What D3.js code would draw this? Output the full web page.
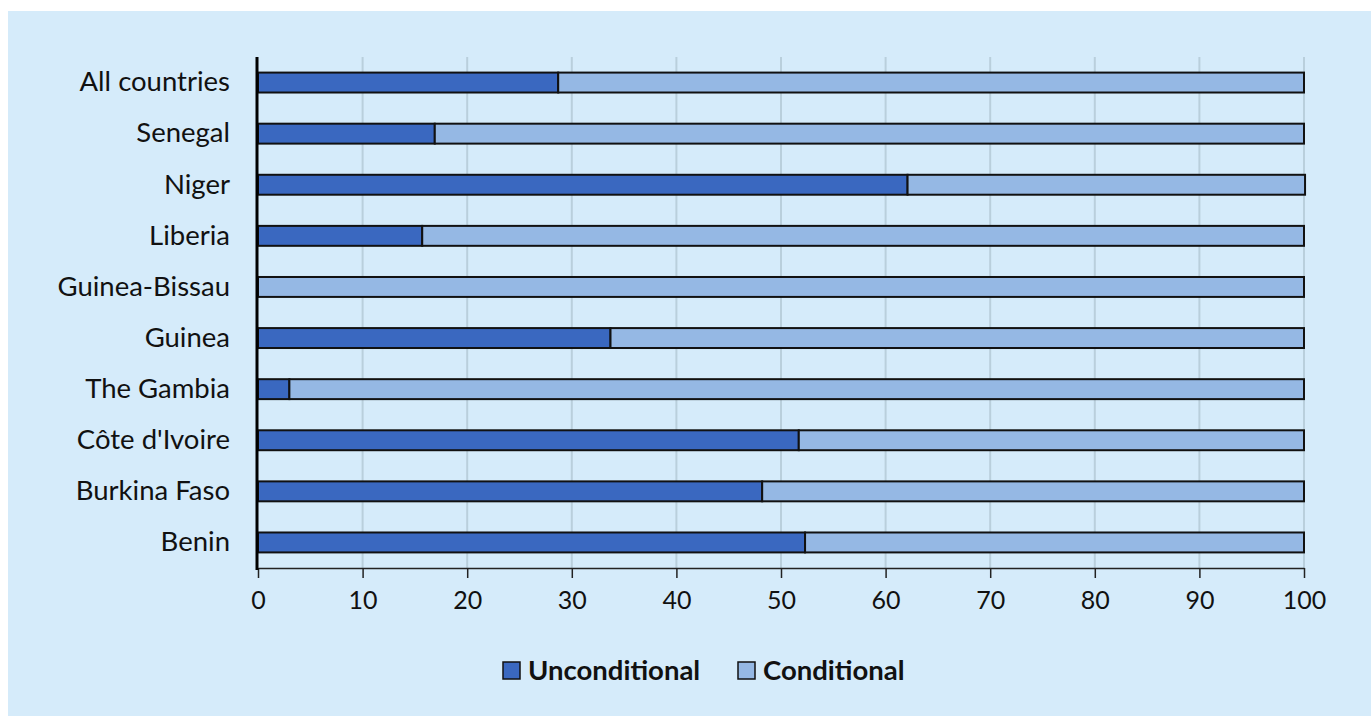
<!DOCTYPE html>
<html>
<head>
<meta charset="utf-8">
<script src="https://cdn.jsdelivr.net/npm/d3@7"></script>
<style>
  body { margin: 0; background: #fff; }
  svg { display: block; font-family: Lato, "Open Sans", sans-serif; }
</style>
</head>
<body>
<svg id="chart" width="1371" height="716"></svg>
<script>
const countries = ['All countries', 'Senegal', 'Niger', 'Liberia', 'Guinea-Bissau', 'Guinea',
  'The Gambia', "Côte d'Ivoire", 'Burkina Faso', 'Benin'];
const unconditional = [28.7, 16.9, 62.1, 15.7, 0, 33.7, 3.0, 51.7, 48.2, 52.3];
const conditional = [71.3, 83.1, 38.0, 84.3, 100, 66.3, 97.0, 48.3, 51.8, 47.7];
const xTicks = [0, 10, 20, 30, 40, 50, 60, 70, 80, 90, 100];
const seriesNames = ['Unconditional', 'Conditional'];
const colors = ['#3a68c0', '#95b8e4'];

const svg = d3.select('#chart');

// panel background
svg.append('rect')
  .attr('x', 8).attr('y', 11)
  .attr('width', 1363).attr('height', 705)
  .attr('fill', '#d5ebfa');

const x = d3.scaleLinear().domain([0, 100]).range([258, 1304]);
const y = d3.scaleBand().domain(countries).range([57, 568])
  .paddingInner(0.61).paddingOuter(0.305);

const g = svg.append('g');

// gridlines
g.selectAll('.grid')
  .data(xTicks.slice(1))
  .join('line')
  .attr('x1', d => x(d)).attr('x2', d => x(d))
  .attr('y1', 57).attr('y2', 568)
  .attr('stroke', '#b9cfdc')
  .attr('stroke-width', 2);

// stacked bars
const rows = countries.map((c, i) => ({c, u: unconditional[i], k: conditional[i]}));
const stack = d3.stack().keys(['u', 'k'])(rows);

stack.forEach((layer, li) => {
  g.selectAll('.bar' + li)
    .data(layer.filter(d => d[1] - d[0] > 0))
    .join('rect')
    .attr('x', d => x(d[0]))
    .attr('width', d => x(d[1]) - x(d[0]))
    .attr('y', d => y(d.data.c))
    .attr('height', y.bandwidth())
    .attr('fill', colors[li])
    .attr('stroke', '#111')
    .attr('stroke-width', 2);
});

// x axis
const xAxis = g.append('g')
  .attr('transform', 'translate(0,568)')
  .call(d3.axisBottom(x).tickValues(xTicks).tickSize(10).tickPadding(13).tickSizeOuter(0));
xAxis.select('.domain').attr('stroke', '#222').attr('stroke-width', 1.5);
xAxis.selectAll('.tick line').attr('stroke', '#222').attr('stroke-width', 1.5);
xAxis.selectAll('text').attr('font-size', 25).attr('fill', '#111')
  .attr('font-family', 'Lato, "Open Sans", sans-serif');

// y axis
const yAxis = g.append('g')
  .attr('transform', 'translate(257,0)')
  .call(d3.axisLeft(y).tickSize(0).tickPadding(27));
yAxis.select('.domain').attr('stroke', '#000').attr('stroke-width', 3)
  .attr('d', 'M0,57V570');
yAxis.selectAll('text').attr('font-size', 27.5).attr('fill', '#111')
  .attr('font-family', 'Lato, "Open Sans", sans-serif');

// legend
const legendX = [503, 738];
const legend = svg.append('g');
seriesNames.forEach((name, i) => {
  legend.append('rect')
    .attr('x', legendX[i]).attr('y', 662)
    .attr('width', 17).attr('height', 17)
    .attr('fill', colors[i])
    .attr('stroke', '#111').attr('stroke-width', 1.5);
  legend.append('text')
    .attr('x', legendX[i] + 25).attr('y', 680)
    .attr('font-size', 27.5).attr('font-weight', 'bold')
    .attr('fill', '#111')
    .text(name);
});
</script>
</body>
</html>
